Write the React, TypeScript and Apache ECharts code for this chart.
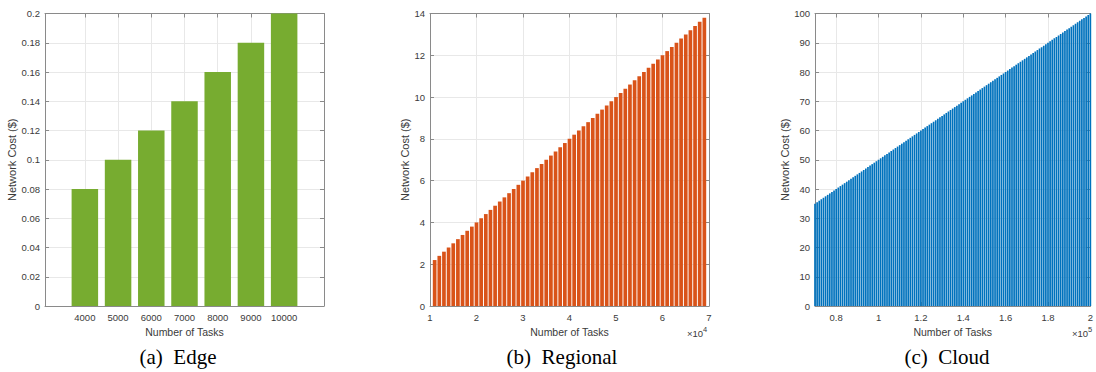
import React, { useEffect, useRef } from 'react';
import * as echarts from 'echarts';

// ---------- data ----------
const edgeTasks = [4000, 5000, 6000, 7000, 8000, 9000, 10000];
const edgeCost = [0.08, 0.1, 0.12, 0.14, 0.16, 0.18, 0.2];

// number of tasks in thousands
const regionalTasksK = [
  11, 12, 13, 14, 15, 16, 17, 18, 19, 20,
  21, 22, 23, 24, 25, 26, 27, 28, 29, 30,
  31, 32, 33, 34, 35, 36, 37, 38, 39, 40,
  41, 42, 43, 44, 45, 46, 47, 48, 49, 50,
  51, 52, 53, 54, 55, 56, 57, 58, 59, 60,
  61, 62, 63, 64, 65, 66, 67, 68, 69,
];
const regionalCost = [
  2.2, 2.4, 2.6, 2.8, 3, 3.2, 3.4, 3.6, 3.8, 4,
  4.2, 4.4, 4.6, 4.8, 5, 5.2, 5.4, 5.6, 5.8, 6,
  6.2, 6.4, 6.6, 6.8, 7, 7.2, 7.4, 7.6, 7.8, 8,
  8.2, 8.4, 8.6, 8.8, 9, 9.2, 9.4, 9.6, 9.8, 10,
  10.2, 10.4, 10.6, 10.8, 11, 11.2, 11.4, 11.6, 11.8, 12,
  12.2, 12.4, 12.6, 12.8, 13, 13.2, 13.4, 13.6, 13.8,
];

// number of tasks in thousands
const cloudTasksK = [
  70, 71, 72, 73, 74, 75, 76, 77, 78, 79,
  80, 81, 82, 83, 84, 85, 86, 87, 88, 89,
  90, 91, 92, 93, 94, 95, 96, 97, 98, 99,
  100, 101, 102, 103, 104, 105, 106, 107, 108, 109,
  110, 111, 112, 113, 114, 115, 116, 117, 118, 119,
  120, 121, 122, 123, 124, 125, 126, 127, 128, 129,
  130, 131, 132, 133, 134, 135, 136, 137, 138, 139,
  140, 141, 142, 143, 144, 145, 146, 147, 148, 149,
  150, 151, 152, 153, 154, 155, 156, 157, 158, 159,
  160, 161, 162, 163, 164, 165, 166, 167, 168, 169,
  170, 171, 172, 173, 174, 175, 176, 177, 178, 179,
  180, 181, 182, 183, 184, 185, 186, 187, 188, 189,
  190, 191, 192, 193, 194, 195, 196, 197, 198, 199,
  200,
];
const cloudCost = [
  35, 35.5, 36, 36.5, 37, 37.5, 38, 38.5, 39, 39.5,
  40, 40.5, 41, 41.5, 42, 42.5, 43, 43.5, 44, 44.5,
  45, 45.5, 46, 46.5, 47, 47.5, 48, 48.5, 49, 49.5,
  50, 50.5, 51, 51.5, 52, 52.5, 53, 53.5, 54, 54.5,
  55, 55.5, 56, 56.5, 57, 57.5, 58, 58.5, 59, 59.5,
  60, 60.5, 61, 61.5, 62, 62.5, 63, 63.5, 64, 64.5,
  65, 65.5, 66, 66.5, 67, 67.5, 68, 68.5, 69, 69.5,
  70, 70.5, 71, 71.5, 72, 72.5, 73, 73.5, 74, 74.5,
  75, 75.5, 76, 76.5, 77, 77.5, 78, 78.5, 79, 79.5,
  80, 80.5, 81, 81.5, 82, 82.5, 83, 83.5, 84, 84.5,
  85, 85.5, 86, 86.5, 87, 87.5, 88, 88.5, 89, 89.5,
  90, 90.5, 91, 91.5, 92, 92.5, 93, 93.5, 94, 94.5,
  95, 95.5, 96, 96.5, 97, 97.5, 98, 98.5, 99, 99.5,
  100,
];

// tick values
const edgeXTicks = [4000, 5000, 6000, 7000, 8000, 9000, 10000];
const regionalXTicksK = [10, 20, 30, 40, 50, 60, 70];
const cloudXTicksK = [80, 100, 120, 140, 160, 180, 200];

const captions = ['(a) \u00a0Edge', '(b) \u00a0Regional', '(c) \u00a0Cloud'];

// ---------- styles ----------
const AXIS_COLOR = '#8a8a8a';
const GRID_COLOR = '#e8e8e8';
const LABEL_COLOR = '#3a3a3a';
const SANS = 'Liberation Sans, Arial, Helvetica, sans-serif';
const SERIF = 'Liberation Serif, Times New Roman, serif';

function xAxesFor(gridIndex: number, min: number, max: number, ticks: number[], fmt: (v: number) => string) {
  const tick = { show: true, inside: true, length: 4, customValues: ticks, lineStyle: { color: AXIS_COLOR } };
  return [
    {
      type: 'value', gridIndex, position: 'bottom', min, max,
      axisLine: { show: true, onZero: false, lineStyle: { color: AXIS_COLOR } },
      axisTick: tick,
      axisLabel: {
        customValues: ticks, formatter: fmt, color: LABEL_COLOR, fontSize: 9.5,
        fontFamily: SANS, margin: 6, showMinLabel: true, showMaxLabel: true,
      },
      splitLine: { show: true, lineStyle: { color: GRID_COLOR } },
      name: 'Number of Tasks', nameLocation: 'middle', nameGap: 19,
      nameTextStyle: { color: LABEL_COLOR, fontSize: 10.5, fontFamily: SANS },
    },
    {
      type: 'value', gridIndex, position: 'top', min, max,
      axisLine: { show: true, onZero: false, lineStyle: { color: AXIS_COLOR } },
      axisTick: tick,
      axisLabel: { show: false },
      splitLine: { show: false },
    },
  ];
}

function yAxesFor(gridIndex: number, max: number, interval: number, nameGap: number) {
  const tick = { show: true, inside: true, length: 4, lineStyle: { color: AXIS_COLOR } };
  return [
    {
      type: 'value', gridIndex, position: 'left', min: 0, max, interval,
      axisLine: { show: true, onZero: false, lineStyle: { color: AXIS_COLOR } },
      axisTick: tick,
      axisLabel: { color: LABEL_COLOR, fontSize: 9.5, fontFamily: SANS, margin: 5, showMinLabel: true, showMaxLabel: true },
      splitLine: { show: true, lineStyle: { color: GRID_COLOR } },
      name: 'Network Cost ($)', nameLocation: 'middle', nameGap,
      nameTextStyle: { color: LABEL_COLOR, fontSize: 11, fontFamily: SANS },
    },
    {
      type: 'value', gridIndex, position: 'right', min: 0, max, interval,
      axisLine: { show: true, onZero: false, lineStyle: { color: AXIS_COLOR } },
      axisTick: tick,
      axisLabel: { show: false },
      splitLine: { show: false },
    },
  ];
}

const round = (v: number) => String(parseFloat(v.toFixed(3)));

export default function App() {
  const ref = useRef<HTMLDivElement>(null);

  useEffect(() => {
    if (!ref.current) return;
    const chart = echarts.init(ref.current, undefined, { renderer: 'svg' });

    const grids = [
      { left: 45, top: 13.5, width: 279, height: 292.5 },
      { left: 430, top: 13.5, width: 279, height: 292.5 },
      { left: 815, top: 13.5, width: 278, height: 292.5 },
    ];

    const xAxis = [
      ...xAxesFor(0, 2800, 11200, edgeXTicks, (v) => String(v)),
      ...xAxesFor(1, 10, 70, regionalXTicksK, (v) => round(v / 10)),
      ...xAxesFor(2, 70, 200, cloudXTicksK, (v) => round(v / 100)),
    ];
    const yAxis = [
      ...yAxesFor(0, 0.2, 0.02, 27),
      ...yAxesFor(1, 14, 2, 19),
      ...yAxesFor(2, 100, 10, 25),
    ];

    const captionX = [178, 562, 947];
    const graphic: any[] = captions.map((t, i) => ({
      type: 'text', x: captionX[i], y: 357,
      style: { text: t, fontFamily: SERIF, fontSize: 21, fill: '#000', align: 'center', verticalAlign: 'middle' },
    }));
    const expo = [
      { right: 703, exp: '4' },
      { right: 1088, exp: '5' },
    ];
    expo.forEach((e) => {
      graphic.push({
        type: 'text', x: e.right, y: 333,
        style: { text: '\u00d710', fontFamily: SANS, fontSize: 9.5, fill: LABEL_COLOR, align: 'right', verticalAlign: 'middle' },
      });
      graphic.push({
        type: 'text', x: e.right, y: 329,
        style: { text: e.exp, fontFamily: SANS, fontSize: 7.5, fill: LABEL_COLOR, align: 'left', verticalAlign: 'middle' },
      });
    });

    chart.setOption({
      animation: false,
      backgroundColor: '#fff',
      grid: grids,
      xAxis,
      yAxis,
      graphic,
      series: [
        {
          type: 'bar', xAxisIndex: 0, yAxisIndex: 0, barWidth: 26.5, clip: true,
          itemStyle: { color: '#77AC30' },
          data: edgeTasks.map((t, i) => [t, edgeCost[i]]),
        },
        {
          type: 'bar', xAxisIndex: 2, yAxisIndex: 2, barWidth: 3.7, clip: true,
          itemStyle: { color: '#D95319' },
          data: regionalTasksK.map((t, i) => [t, regionalCost[i]]),
        },
        {
          type: 'bar', xAxisIndex: 4, yAxisIndex: 4, barWidth: 1.7, clip: true,
          itemStyle: { color: '#0072BD' },
          data: cloudTasksK.map((t, i) => [t, cloudCost[i]]),
        },
      ],
    });

    return () => chart.dispose();
  }, []);

  return (
    <div
      ref={ref}
      style={{ position: 'fixed', left: 0, top: 0, width: 1096, height: 372, background: '#fff' }}
    />
  );
}
